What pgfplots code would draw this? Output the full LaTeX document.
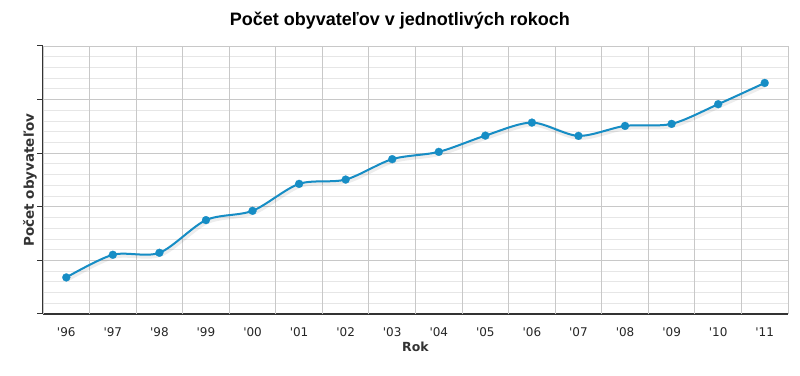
\documentclass[border=0pt]{standalone}
\usepackage{pgfplots}
\pgfplotsset{compat=1.18}
\usepackage{fontspec}
\setmainfont{DejaVu Sans}
\newfontfamily\titlefont{Liberation Sans}
\definecolor{ser}{HTML}{168DC5}
\definecolor{gridmaj}{HTML}{C8C8C8}
\definecolor{gridmin}{HTML}{E6E6E6}
\definecolor{axc}{HTML}{333333}
\begin{document}
\begin{tikzpicture}
\begin{axis}[
  scale only axis, width=745pt, height=268pt,
  xmin=-0.5, xmax=15.5, ymin=0, ymax=5,
  axis x line*=bottom, axis y line*=left,
  axis line style={axc, line width=1.4pt},
  xtick={0,...,15},
  xticklabels={\textquotesingle96,\textquotesingle97,\textquotesingle98,\textquotesingle99,\textquotesingle00,\textquotesingle01,\textquotesingle02,\textquotesingle03,\textquotesingle04,\textquotesingle05,\textquotesingle06,\textquotesingle07,\textquotesingle08,\textquotesingle09,\textquotesingle10,\textquotesingle11},
  xtick style={draw=none},
  extra x ticks={-0.5,0.5,...,15.5},
  extra x tick labels={},
  extra x tick style={grid=major, major grid style={gridmaj, line width=0.9pt}, tick align=outside, major tick length=6pt, tick style={axc, line width=1pt, draw=axc}},
  ytick={0,...,5}, yticklabels={},
  minor y tick num=4,
  ymajorgrids, yminorgrids,
  major grid style={gridmaj, line width=0.9pt},
  minor grid style={gridmin, line width=0.9pt},
  tick align=outside, major tick length=6pt, minor tick length=0pt,
  ytick style={axc, line width=1pt},
  ticklabel style={font=\fontsize{12}{14}\selectfont, text=black!85},
  xticklabel style={anchor=center, yshift=-12pt},
  title={Počet obyvateľov v jednotlivých rokoch},
  title style={at={(rel axis cs:0.479,1.074)}, anchor=center, font=\titlefont\fontsize{18}{21}\selectfont\bfseries, text=black},
  ylabel={Počet obyvateľov},
  ylabel style={at={(rel axis cs:-0.0174,0.5)}, anchor=center, font=\fontsize{13.5}{16}\selectfont\bfseries, text=axc},
  xlabel={Rok},
  xlabel style={at={(rel axis cs:0.5,-0.1226)}, anchor=center, font=\fontsize{12.5}{15}\selectfont\bfseries, text=axc},
  clip=false,
]
\addplot[smooth, no markers, line width=5pt, black, opacity=0.07, forget plot, xshift=1pt, yshift=-1.5pt] table {
x y
0 0.682
1 1.105
2 1.142
3 1.752
4 1.925
5 2.428
6 2.508
7 2.889
8 3.025
9 3.328
10 3.571
11 3.323
12 3.509
13 3.547
14 3.914
15 4.311
};
\addplot[smooth, ser, line width=2pt, mark=*, mark size=4pt, mark options={solid, fill=ser, draw=ser, line width=0.2pt}] table {
x y
0 0.682
1 1.105
2 1.142
3 1.752
4 1.925
5 2.428
6 2.508
7 2.889
8 3.025
9 3.328
10 3.571
11 3.323
12 3.509
13 3.547
14 3.914
15 4.311
};
\end{axis}
\pgfresetboundingbox
\useasboundingbox ([shift={(-43pt,-62pt)}]current axis.south west) rectangle ([shift={(12pt,46pt)}]current axis.north east);
\end{tikzpicture}
\end{document}
